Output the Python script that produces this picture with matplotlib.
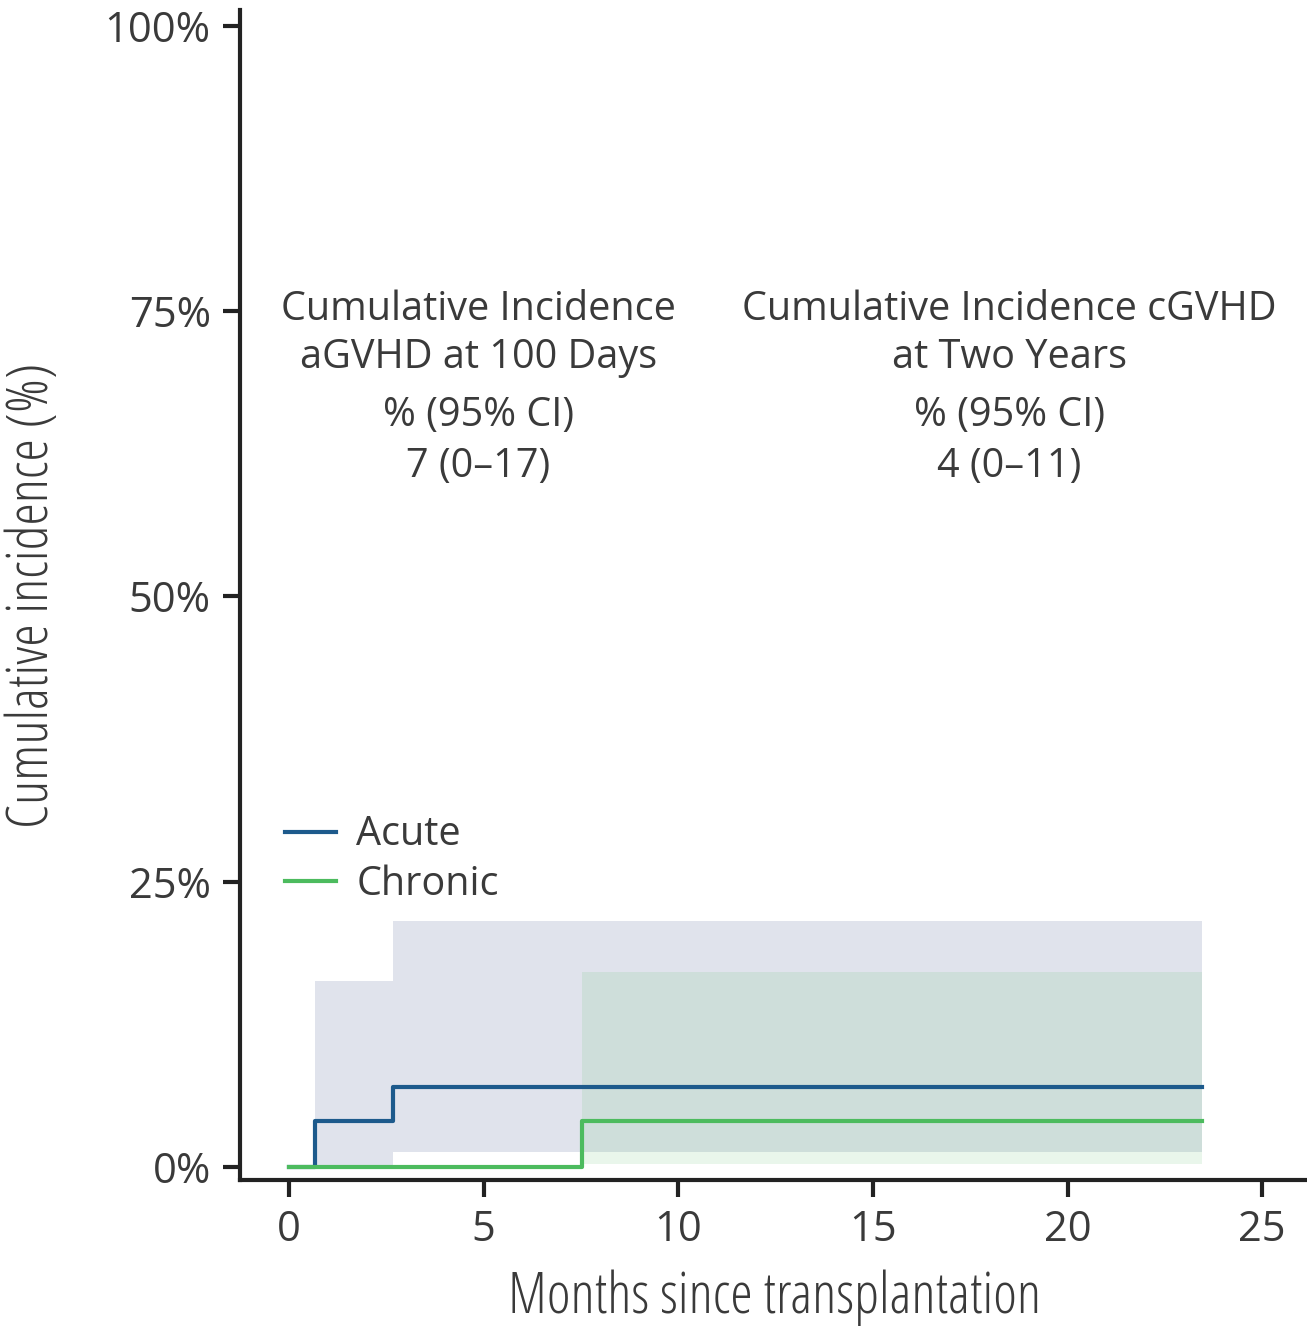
import matplotlib
matplotlib.use("Agg")
import matplotlib.pyplot as plt

# Cumulative incidence step curves (months, %)
acute_t = [0.0, 0.67, 2.67, 23.45]
acute_v = [0.0, 4.0, 7.0, 7.0]
acute_band_t = [0.67, 2.67, 23.45]
acute_band_lo = [0.0, 1.3, 1.3]
acute_band_hi = [16.3, 21.6, 21.6]

chronic_t = [0.0, 7.53, 23.45]
chronic_v = [0.0, 4.0, 4.0]
chronic_band_t = [7.53, 23.45]
chronic_band_lo = [0.3, 0.3]
chronic_band_hi = [17.1, 17.1]

x_ticks = [0, 5, 10, 15, 20, 25]
y_ticks = [0, 25, 50, 75, 100]
y_tick_labels = ["0%", "25%", "50%", "75%", "100%"]

acute_note = ["Cumulative Incidence", "aGVHD at 100 Days", "% (95% CI)", "7 (0\u201317)"]
chronic_note = ["Cumulative Incidence cGVHD", "at Two Years", "% (95% CI)", "4 (0\u201311)"]

ACUTE = "#1d5a8c"
CHRONIC = "#4cbb5e"
TEXT = "#3a3a3a"

plt.rcParams["font.family"] = ["Open Sans", "DejaVu Sans"]

W, H = 1307, 1326
fig = plt.figure(figsize=(W / 100, H / 100), dpi=100)
ax = fig.add_axes([240 / W, 1 - 1180 / H, (1305 - 240) / W, (1180 - 10) / H])

ax.fill_between(acute_band_t, acute_band_lo, acute_band_hi, step="post",
                color="#e0e3ec", lw=0, zorder=1)
ax.fill_between(chronic_band_t, chronic_band_lo, chronic_band_hi, step="post",
                color=CHRONIC, alpha=0.12, lw=0, zorder=2)
ax.step(acute_t, acute_v, where="post", color=ACUTE, lw=3, zorder=3,
        label="Acute")
ax.step(chronic_t, chronic_v, where="post", color=CHRONIC, lw=3, zorder=4,
        label="Chronic")

ax.set_xlim(-1.26, 26.1)
ax.set_ylim(-1.14, 101.4)
ax.set_xticks(x_ticks)
ax.set_xticklabels([str(t) for t in x_ticks])
ax.set_yticks(y_ticks)
ax.set_yticklabels(y_tick_labels)

for s in ("top", "right"):
    ax.spines[s].set_visible(False)
for s in ("left", "bottom"):
    ax.spines[s].set_linewidth(3)
    ax.spines[s].set_color("#222222")
ax.tick_params(axis="both", direction="out", length=12, width=3, color="#222222",
               labelsize=30, labelcolor=TEXT, pad=9)

ax.set_xlabel("Months since transplantation", fontsize=41, color=TEXT,
              fontstretch="condensed")
ax.set_ylabel("Cumulative incidence (%)", fontsize=41, color=TEXT,
              fontstretch="condensed")
ax.xaxis.set_label_coords((775 - 240) / (1305 - 240), -(1298 - 1180) / (1180 - 10))
ax.yaxis.set_label_coords(-(240 - 33) / (1305 - 240), (1180 - 595) / (1180 - 10))
ax.xaxis.label.set_va("center")
ax.yaxis.label.set_va("center")

ys = [75.1, 70.9, 65.8, 61.4]
for line, y in zip(acute_note, ys):
    ax.text(4.86, y, line, ha="center", va="center", fontsize=28.5, color=TEXT)
for line, y in zip(chronic_note, ys):
    ax.text(18.5, y, line, ha="center", va="center", fontsize=28.5, color=TEXT)

leg = ax.legend(loc="upper left",
                bbox_to_anchor=(0.027, 0.3255), frameon=False, fontsize=28.5,
                handlelength=1.31, handletextpad=0.5, labelspacing=0.23,
                borderaxespad=0)
for t in leg.get_texts():
    t.set_color(TEXT)

fig.savefig("out.png", dpi=100)
